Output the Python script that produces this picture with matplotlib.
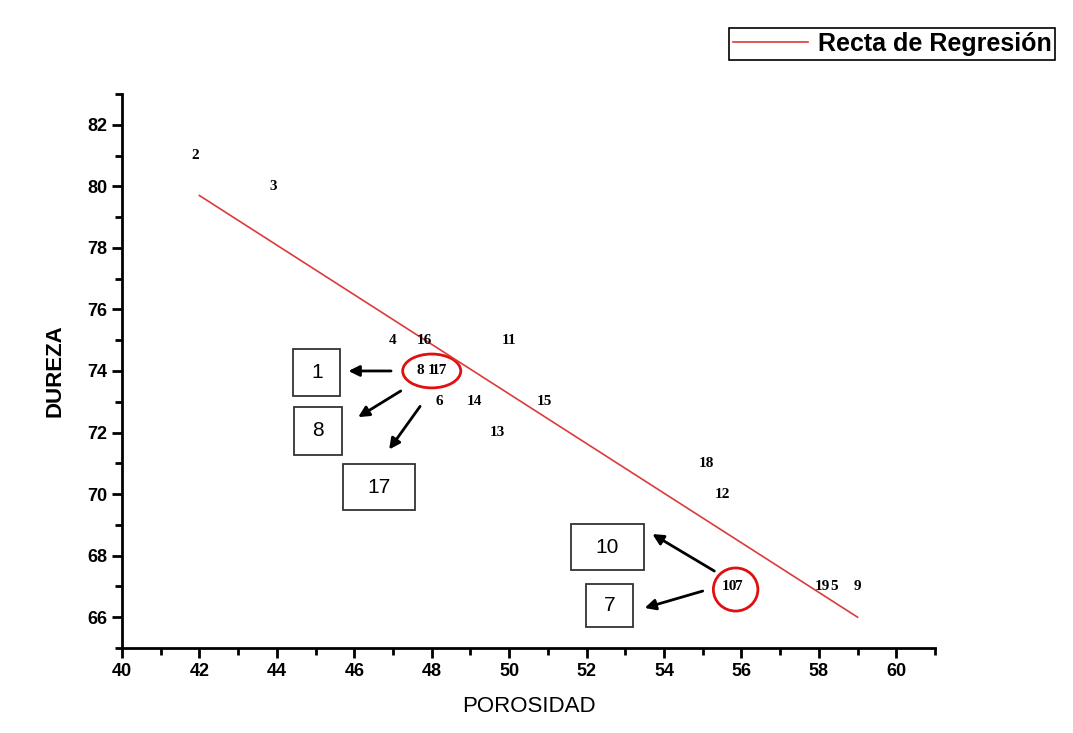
import matplotlib
matplotlib.use('Agg')
import matplotlib.pyplot as plt
from matplotlib.patches import Ellipse, Rectangle
from matplotlib.ticker import MultipleLocator

plt.rcParams['font.family'] = ['Liberation Sans', 'DejaVu Sans']

# sample numbers and their (porosidad, dureza) values
labels = ['2', '3', '4', '16', '11', '8', '1', '17', '6', '14', '15', '13',
          '18', '12', '10', '7', '19', '5', '9']
porosidad = [41.9, 43.9, 47.0, 47.8, 50.0, 47.7, 48.0, 48.2, 48.2, 49.1, 50.9, 49.7,
             55.1, 55.5, 55.7, 55.9, 58.1, 58.4, 59.0]
dureza = [81, 80, 75, 75, 75, 74, 74, 74, 73, 73, 73, 72,
          71, 70, 67, 67, 67, 67, 67]

# regression line end points
fit_x = [42.0, 59.0]
fit_y = [79.7, 66.0]

# boxed callouts: text, box centre, box size, arrow tail, arrow head
box_text = ['1', '8', '17', '10', '7']
box_xy = [(45.03, 73.95), (45.06, 72.05), (46.65, 70.23), (52.54, 68.28), (52.59, 66.38)]
box_w = [1.22, 1.24, 1.86, 1.89, 1.22]
box_h = [1.54, 1.54, 1.51, 1.48, 1.41]
arrow_from = [(46.95, 74.0), (47.2, 73.35), (47.7, 72.85), (55.3, 67.5), (55.0, 66.85)]
arrow_to = [(45.85, 74.0), (46.1, 72.5), (46.9, 71.45), (53.7, 68.7), (53.5, 66.3)]

# red circles around overlapped labels: centre, width, height
ring_xy = [(48.0, 74.0), (55.85, 66.9)]
ring_w = [1.5, 1.15]
ring_h = [1.1, 1.4]

fig = plt.figure(figsize=(10.73, 7.33), dpi=100)
ax = fig.add_axes([0.1137, 0.116, 0.7577, 0.7558])

line, = ax.plot(fit_x, fit_y, color='#dc3a3a', linewidth=1.2, label='Recta de Regresión')

for t, x, y in zip(labels, porosidad, dureza):
    ax.text(x, y, t, ha='center', va='center', fontsize=11, fontweight='bold',
            family=['Liberation Serif', 'DejaVu Serif'])

for t, (bx, by), w, h in zip(box_text, box_xy, box_w, box_h):
    ax.add_patch(Rectangle((bx - w / 2, by - h / 2), w, h, facecolor='white',
                           edgecolor='#333333', linewidth=1.3))
    ax.text(bx, by, t, ha='center', va='center', fontsize=15)

for (x0, y0), (x1, y1) in zip(arrow_from, arrow_to):
    ax.annotate('', xy=(x1, y1), xytext=(x0, y0),
                arrowprops=dict(arrowstyle='-|>', color='black', lw=2,
                                mutation_scale=16, shrinkA=0, shrinkB=0))

for (cx, cy), w, h in zip(ring_xy, ring_w, ring_h):
    ax.add_patch(Ellipse((cx, cy), w, h, fill=False, edgecolor='#e01010', linewidth=2))

ax.set_xlim(40, 61)
ax.set_ylim(65, 83)
ax.xaxis.set_minor_locator(MultipleLocator(1))
ax.yaxis.set_minor_locator(MultipleLocator(1))
ax.set_xticks(range(40, 61, 2))
ax.set_yticks(range(66, 83, 2))
ax.tick_params(which='major', direction='out', length=7, width=2, labelsize=13)
ax.tick_params(which='minor', direction='out', length=5, width=2)
for lab in ax.get_xticklabels() + ax.get_yticklabels():
    lab.set_fontweight('bold')
ax.spines['top'].set_visible(False)
ax.spines['right'].set_visible(False)
ax.spines['left'].set_linewidth(2)
ax.spines['bottom'].set_linewidth(2)

ax.set_xlabel('POROSIDAD', fontsize=16, labelpad=12)
ax.set_ylabel('DUREZA', fontsize=16, fontweight='bold', labelpad=16)

leg = fig.legend(handles=[line], loc='upper right', bbox_to_anchor=(1055 / 1073, 1 - 28 / 733),
                 fancybox=False, edgecolor='black', framealpha=1, fontsize=18,
                 handlelength=3.0, handletextpad=0.4, borderpad=0.15, borderaxespad=0)
for t in leg.get_texts():
    t.set_fontweight('bold')
leg.get_frame().set_linewidth(1.2)

fig.savefig('out.png', dpi=100)
